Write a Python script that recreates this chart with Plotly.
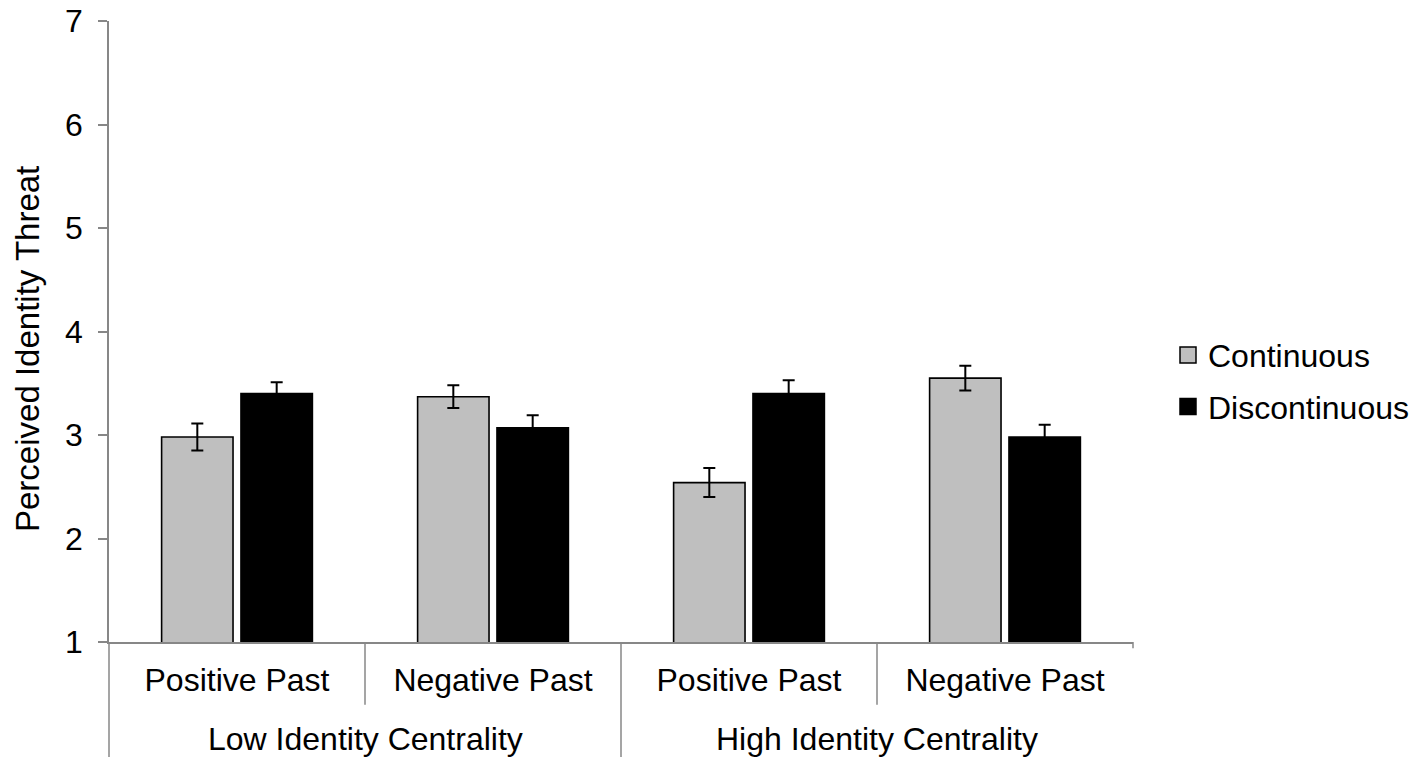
import plotly.graph_objects as go

# data
centrality = ["Low Identity Centrality"] * 2 + ["High Identity Centrality"] * 2
past = ["Positive Past", "Negative Past"] * 2
continuous = [2.98, 3.37, 2.54, 3.55]
continuous_err = [0.13, 0.11, 0.14, 0.12]
discontinuous = [3.40, 3.07, 3.40, 2.98]
discontinuous_err = [0.11, 0.12, 0.13, 0.12]
y_ticks = [1, 2, 3, 4, 5, 6, 7]

AXIS_GREY = "#878787"
FONT = "Liberation Sans, Arial, sans-serif"

# page body has an 8px margin; the figure is shifted by it, so margins are compensated.
# the figure is a bit wider than the window so the legend's 12px automargin pad
# falls outside the visible area instead of shrinking the plot
W, H = 1429, 749
M = dict(l=101, r=304, t=13, b=115)
LEGEND_RIGHT_GAP = 23
plot_w = W - M["l"] - M["r"]

# one unique category per bar pair, labelled with the inner level
keys = [f"{c} | {p}" for c, p in zip(centrality, past)]

fig = go.Figure()
fig.add_trace(go.Bar(
    x=keys, y=continuous, name="Continuous", showlegend=False,
    marker=dict(color="#bfbfbf", line=dict(color="black", width=1.6)),
    error_y=dict(type="data", array=continuous_err, color="black", thickness=2, width=6),
))
fig.add_trace(go.Bar(
    x=keys, y=discontinuous, name="Discontinuous", showlegend=False,
    marker=dict(color="black", line=dict(color="black", width=1.6)),
    error_y=dict(type="data", array=discontinuous_err, color="black", thickness=2, width=6),
))

# legend entries with bigger square swatches than the bar default
for name, colour in [("Continuous", "#bfbfbf"), ("Discontinuous", "black")]:
    fig.add_trace(go.Scatter(
        x=keys[:1], y=[None], mode="markers", name=name, legendgroup=name,
        marker=dict(symbol="square", size=17, color=colour, line=dict(color="black", width=1.5)),
    ))

# outer level labels centred under their pair of categories
for group in dict.fromkeys(centrality):
    idx = [i for i, c in enumerate(centrality) if c == group]
    fig.add_annotation(x=sum(idx) / len(idx), xref="x", y=-0.156, yref="paper",
                       text=group, showarrow=False, yanchor="middle",
                       font=dict(size=32))

# y title sits a little below the middle of the axis in the original
fig.add_annotation(x=-0.079, xref="paper", y=0.472, yref="paper",
                   text="Perceived Identity Threat", textangle=-90, showarrow=False,
                   xanchor="center", yanchor="middle", font=dict(size=33))

# category separators below the axis (inner level short, outer level long)
line = dict(color=AXIS_GREY, width=1.5)
for xf, y_end in [(0, -0.2), (0.25, -0.101), (0.5, -0.2), (0.75, -0.101), (1, -0.01)]:
    fig.add_shape(type="line", xref="x domain", yref="paper",
                  x0=xf, x1=xf, y0=0, y1=y_end, line=line)

fig.update_layout(
    width=W, height=H, margin=M,
    plot_bgcolor="white", paper_bgcolor="white",
    font=dict(family=FONT, size=32, color="black"),
    barmode="group", bargap=0.38, bargroupgap=0.1,
    legend=dict(x=(W - LEGEND_RIGHT_GAP - M["l"]) / plot_w, y=0.420, xanchor="right",
                yanchor="middle", tracegroupgap=7, font=dict(size=32)),
    xaxis=dict(type="category", tickvals=keys, ticktext=past, automargin=False,
               showline=True, linecolor=AXIS_GREY, linewidth=1.5,
               ticks="", showgrid=False, ticklabelstandoff=9),
    yaxis=dict(range=[1, 7], tickvals=y_ticks, automargin=False, showline=True,
               linecolor=AXIS_GREY, linewidth=1.5, ticks="outside", ticklen=9,
               tickcolor=AXIS_GREY, tickwidth=1.5, ticklabelstandoff=9,
               ticklabeloverflow="allow", showgrid=False, zeroline=False),
)

fig.write_html("out.html")
